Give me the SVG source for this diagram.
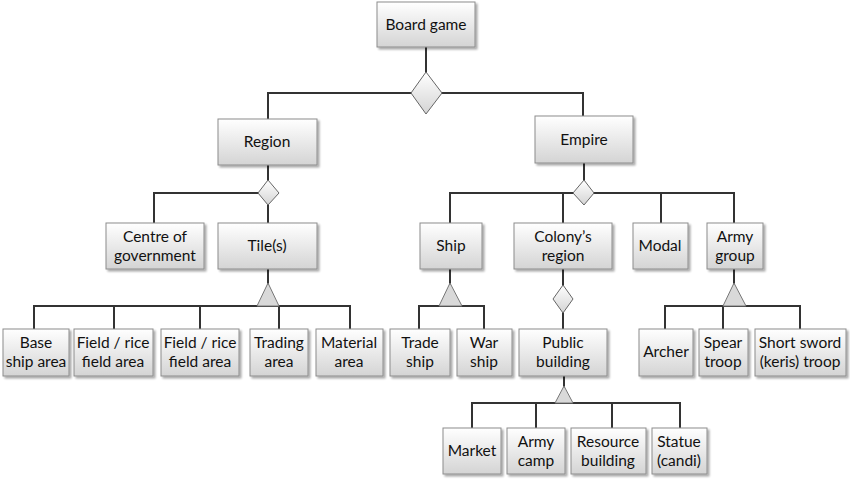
<svg xmlns="http://www.w3.org/2000/svg" width="850" height="479" viewBox="0 0 850 479">
<defs>
<linearGradient id="g" x1="0" y1="0" x2="0" y2="1">
<stop offset="0" stop-color="#ffffff"/>
<stop offset="1" stop-color="#d4d4d4"/>
</linearGradient>
<filter id="sh" x="-10%" y="-10%" width="130%" height="140%">
<feGaussianBlur in="SourceAlpha" stdDeviation="1"/>
<feOffset dx="2" dy="2" result="o"/>
<feComponentTransfer><feFuncA type="linear" slope="0.35"/></feComponentTransfer>
<feMerge><feMergeNode/><feMergeNode in="SourceGraphic"/></feMerge>
</filter>
</defs>
<style>
.box{fill:url(#g);stroke:#8c8c8c;stroke-width:1;filter:url(#sh)}
.dia{fill:url(#g);stroke:#666;stroke-width:1}
.tri{fill:#d9d9d9;stroke:#777;stroke-width:1}
.ln{fill:none;stroke:#333;stroke-width:2}
text{font-family:Lato,"Liberation Sans",sans-serif;font-size:15.5px;fill:#111;text-anchor:middle}
</style>
<g id="connectors">
<path class="ln" d="M426,47V93M268,119V93H583V116"/>
<path class="ln" d="M268,165V193H154V223M268,193V223"/>
<path class="ln" d="M268,269V306M34,329V306H350V329M114,306V329M200,306V329M279,306V329"/>
<path class="ln" d="M584,163V193M450,223V193H734V223M563,193V223M661,193V223"/>
<path class="ln" d="M450,269V306M419,329V306H484V329"/>
<path class="ln" d="M563,269V329"/>
<path class="ln" d="M734,269V306M665,329V306H800V329M723,306V329"/>
<path class="ln" d="M564,376V403M472,428V403H680V428M536,403V428M612,403V428"/>
</g>
<g id="junctions">
<polygon class="dia" points="426,72 442,93 426,114 411,93"/>
<polygon class="dia" points="268,180 279,193 268,205 258,193"/>
<polygon class="dia" points="584,180 594,193 584,205 573,193"/>
<polygon class="dia" points="563,285 573,299 563,313 553,299"/>
<polygon class="tri" points="268,283 279,306 257,306"/>
<polygon class="tri" points="450,283 462,306 439,306"/>
<polygon class="tri" points="734,283 746,306 723,306"/>
<polygon class="tri" points="564,386 573,403 555,403"/>
</g>
<g id="board-game"><rect class="box" x="377" y="2" width="98" height="45"/><text x="426" y="30">Board game</text></g>
<g id="region"><rect class="box" x="218" y="119" width="99" height="46"/><text x="267" y="147">Region</text></g>
<g id="empire"><rect class="box" x="535" y="116" width="98" height="47"/><text x="584" y="145">Empire</text></g>
<g id="centre-of-government"><rect class="box" x="106" y="223" width="98" height="46"/><text x="155" y="242">Centre of</text><text x="155" y="261">government</text></g>
<g id="tiles"><rect class="box" x="218" y="223" width="99" height="46"/><text x="267" y="251">Tile(s)</text></g>
<g id="ship"><rect class="box" x="420" y="223" width="62" height="46"/><text x="451" y="251">Ship</text></g>
<g id="colonys-region"><rect class="box" x="514" y="223" width="98" height="46"/><text x="563" y="242">Colony’s</text><text x="563" y="261">region</text></g>
<g id="modal"><rect class="box" x="633" y="223" width="55" height="46"/><text x="660" y="251">Modal</text></g>
<g id="army-group"><rect class="box" x="707" y="223" width="56" height="46"/><text x="735" y="242">Army</text><text x="735" y="261">group</text></g>
<g id="base-ship-area"><rect class="box" x="3" y="329" width="66" height="47"/><text x="36" y="348">Base</text><text x="36" y="367">ship area</text></g>
<g id="field-rice-1"><rect class="box" x="74" y="329" width="79" height="47"/><text x="113" y="348">Field / rice</text><text x="113" y="367">field area</text></g>
<g id="field-rice-2"><rect class="box" x="161" y="329" width="78" height="47"/><text x="200" y="348">Field / rice</text><text x="200" y="367">field area</text></g>
<g id="trading-area"><rect class="box" x="250" y="329" width="58" height="47"/><text x="279" y="348">Trading</text><text x="279" y="367">area</text></g>
<g id="material-area"><rect class="box" x="316" y="329" width="67" height="47"/><text x="349" y="348">Material</text><text x="349" y="367">area</text></g>
<g id="trade-ship"><rect class="box" x="390" y="329" width="60" height="47"/><text x="420" y="348">Trade</text><text x="420" y="367">ship</text></g>
<g id="war-ship"><rect class="box" x="457" y="329" width="55" height="47"/><text x="484" y="348">War</text><text x="484" y="367">ship</text></g>
<g id="public-building"><rect class="box" x="519" y="329" width="88" height="47"/><text x="563" y="348">Public</text><text x="563" y="367">building</text></g>
<g id="archer"><rect class="box" x="639" y="329" width="54" height="47"/><text x="666" y="357">Archer</text></g>
<g id="spear-troop"><rect class="box" x="699" y="329" width="49" height="47"/><text x="723" y="348">Spear</text><text x="723" y="367">troop</text></g>
<g id="short-sword-troop"><rect class="box" x="755" y="329" width="91" height="47"/><text x="800" y="348">Short sword</text><text x="800" y="367">(keris) troop</text></g>
<g id="market"><rect class="box" x="443" y="428" width="58" height="46"/><text x="472" y="456">Market</text></g>
<g id="army-camp"><rect class="box" x="507" y="428" width="58" height="46"/><text x="536" y="447">Army</text><text x="536" y="466">camp</text></g>
<g id="resource-building"><rect class="box" x="571" y="428" width="75" height="46"/><text x="608" y="447">Resource</text><text x="608" y="466">building</text></g>
<g id="statue-candi"><rect class="box" x="652" y="428" width="55" height="46"/><text x="679" y="447">Statue</text><text x="679" y="466">(candi)</text></g>
</svg>
